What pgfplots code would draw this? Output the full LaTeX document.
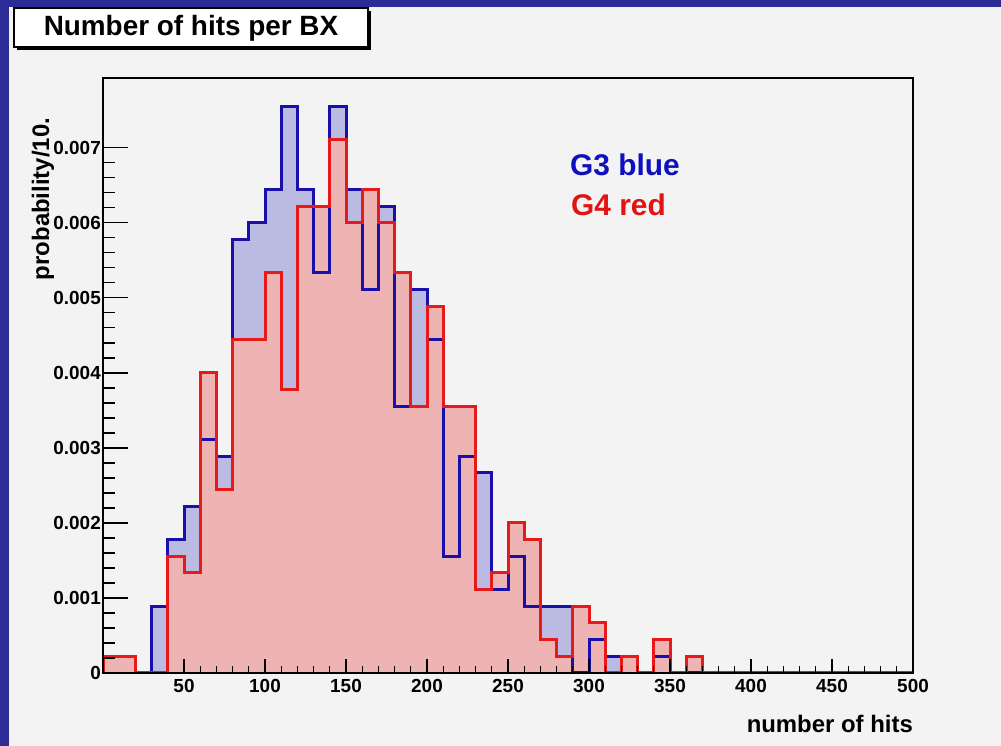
\documentclass[border=0pt]{standalone}
\usepackage{fontspec}
\setmainfont{Liberation Sans}
\usepackage{pgfplots}
\pgfplotsset{compat=1.18}
\usepackage{pgfplotstable}
\definecolor{bgGrey}{RGB}{243,243,243}
\definecolor{borderBlue}{RGB}{44,44,150}
\definecolor{blueFill}{RGB}{186,186,226}
\definecolor{redFill}{RGB}{238,180,180}
\definecolor{blueLine}{RGB}{25,15,170}
\definecolor{redLine}{RGB}{232,25,25}
\definecolor{gThree}{RGB}{15,15,190}
\definecolor{gFour}{RGB}{225,20,20}

% G3 (blue): left bin edge, probability/10
\pgfplotstableread{
x y
0 0
0 0.000222
10 0.000222
20 0
30 0.000889
40 0.001778
50 0.002222
60 0.003111
70 0.002889
80 0.005778
90 0.006000
100 0.006444
110 0.007556
120 0.006444
130 0.005333
140 0.007556
150 0.006444
160 0.005111
170 0.006222
180 0.003556
190 0.005111
200 0.004444
210 0.001556
220 0.002889
230 0.002667
240 0.001111
250 0.001556
260 0.000889
270 0.000889
280 0.000889
290 0
300 0.000444
310 0.000222
320 0.000222
330 0
340 0.000222
350 0
360 0
370 0
380 0
390 0
400 0
410 0
420 0
430 0
440 0
450 0
460 0
470 0
480 0
490 0
500 0
}\gthree

% G4 (red)
\pgfplotstableread{
x y
0 0
0 0.000222
10 0.000222
20 0
30 0
40 0.001556
50 0.001333
60 0.004000
70 0.002444
80 0.004444
90 0.004444
100 0.005333
110 0.003778
120 0.006222
130 0.006222
140 0.007111
150 0.006000
160 0.006444
170 0.006000
180 0.005333
190 0.003556
200 0.004889
210 0.003556
220 0.003556
230 0.001111
240 0.001333
250 0.002000
260 0.001778
270 0.000444
280 0.000222
290 0.000889
300 0.000667
310 0
320 0.000222
330 0
340 0.000444
350 0
360 0.000222
370 0
380 0
390 0
400 0
410 0
420 0
430 0
440 0
450 0
460 0
470 0
480 0
490 0
500 0
}\gfour

\begin{document}
\begin{tikzpicture}
\begin{scope}[x=1bp,y=1bp]
\useasboundingbox (0,0) rectangle (1001,746);
\fill[borderBlue] (0,0) rectangle (1001,746);
\fill[bgGrey] (9,0) rectangle (1001,739);
% title box
\fill[black] (17,696) rectangle (371,735);
\filldraw[fill=white, draw=black, line width=1.2bp] (14,699) rectangle (368,738);
\node[font=\bfseries\fontsize{28}{30}\selectfont, inner sep=0pt] at (191,718) {Number of hits per BX};
\end{scope}

\begin{axis}[
  at={(103bp,73bp)}, anchor=south west,
  scale only axis, width=810bp, height=595bp,
  xmin=0, xmax=500, ymin=0, ymax=0.00793,
  axis on top,
  clip=false,
  axis line style={line width=1.5bp, black},
  tick align=inside,
  xtick pos=bottom, ytick pos=left,
  xtick={50,100,150,200,250,300,350,400,450,500},
  ytick={0,0.001,0.002,0.003,0.004,0.005,0.006,0.007},
  yticklabels={0,0.001,0.002,0.003,0.004,0.005,0.006,0.007},
  minor x tick num=4, minor y tick num=4,
  xtick style={line width=1.3bp, black, /pgfplots/major tick length=14bp, /pgfplots/minor tick length=7bp},
  ytick style={line width=1.3bp, black, /pgfplots/major tick length=25bp, /pgfplots/minor tick length=12bp},
  ticklabel style={font=\bfseries\fontsize{19}{19}\selectfont},
  yticklabel style={inner sep=2bp},
  xticklabel style={inner sep=6bp},
  /pgf/number format/assume math mode=true,
  /pgf/number format/1000 sep={},
  scaled y ticks=false,
]
\addplot[const plot, fill=blueFill, draw=none] table {\gthree} \closedcycle;
\addplot[const plot, fill=redFill, draw=none] table {\gfour} \closedcycle;
\addplot[const plot, draw=blueLine, line width=3bp, miter limit=2] table {\gthree};
\addplot[const plot, draw=redLine, line width=3bp, miter limit=2] table {\gfour};
\end{axis}

\begin{scope}[x=1bp,y=1bp]
\node[font=\bfseries\fontsize{24}{24}\selectfont, rotate=90, anchor=base, inner sep=0pt] at (49,547) {probability/10.};
\node[font=\bfseries\fontsize{24}{24}\selectfont, anchor=base east, inner sep=0pt] at (913,13) {number of hits};
\node[font=\bfseries\fontsize{30}{30}\selectfont, anchor=base west, inner sep=0pt, text=gThree] at (570,570) {G3 blue};
\node[font=\bfseries\fontsize{30}{30}\selectfont, anchor=base west, inner sep=0pt, text=gFour] at (571,530) {G4 red};
\end{scope}
\end{tikzpicture}
\end{document}
